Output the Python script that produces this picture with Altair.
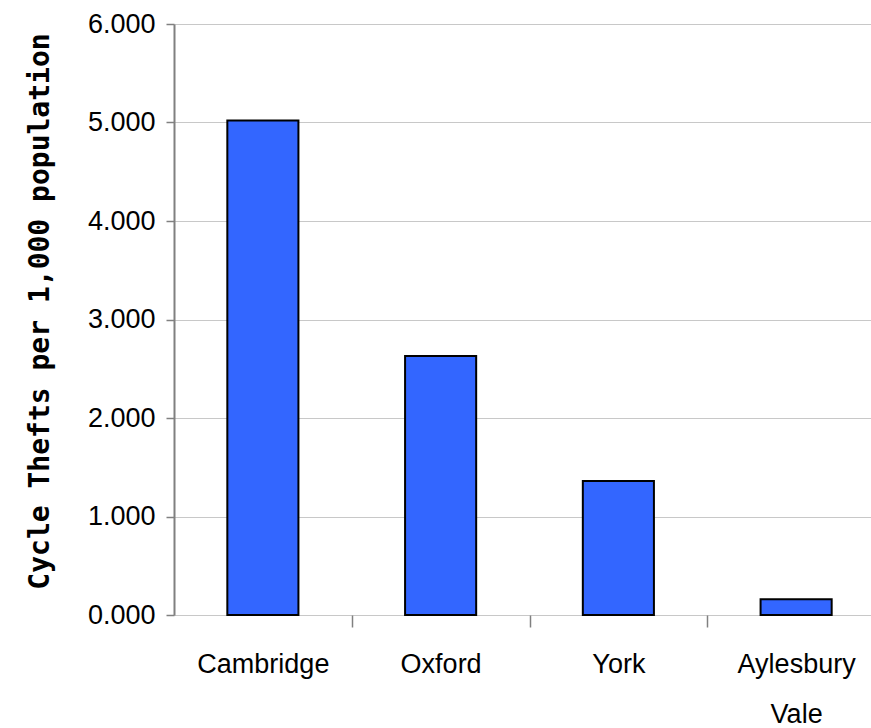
import altair as alt
import pandas as pd

areas = ["Cambridge", "Oxford", "York", "Aylesbury Vale"]
thefts = [5.02, 2.63, 1.36, 0.16]

df = pd.DataFrame({"area": areas, "thefts": thefts})

label_font = "Liberation Sans"

chart = alt.Chart(df).mark_bar(
    color="#3366FF", stroke="#000000", strokeWidth=2, clip=False
).encode(
    x=alt.X("area:N", sort=areas,
            scale=alt.Scale(paddingInner=0.6, paddingOuter=0.3, range=[0, 711]),
            axis=alt.Axis(title=None, labelAngle=0, tickOffset=88.875,
                          labelOffset=-88.875,
                          tickSize=12, tickColor="#808080", tickWidth=1.5,
                          domain=False,
                          labelFont=label_font, labelFontSize=27,
                          labelColor="#000000", labelPadding=24,
                          labelLineHeight=50,
                          labelExpr="datum.label == 'Aylesbury Vale' ? ['Aylesbury', 'Vale'] : datum.label",
                          grid=False)),
    y=alt.Y("thefts:Q",
            scale=alt.Scale(domain=[0, 6], nice=False),
            axis=alt.Axis(title="Cycle Thefts per 1,000 population",
                          values=[0, 1, 2, 3, 4, 5, 6], format=".3f",
                          tickSize=8, tickColor="#808080", tickWidth=1.5,
                          domainColor="#808080", domainWidth=2,
                          gridColor="#c8c8c8", gridWidth=1,
                          labelFont=label_font, labelFontSize=27,
                          labelColor="#000000", labelPadding=11,
                          titleFont="DejaVu Sans Mono", titleFontSize=28,
                          titleFontWeight="bold", titleColor="#000000",
                          titleX=-134, titleY=287, titleAngle=-90,
                          titleAlign="center", titleBaseline="middle")),
).properties(
    width=697, height=591,
    autosize=alt.AutoSizeParams(type="none"),
    padding={"left": 174, "top": 24, "right": 0, "bottom": 113},
).configure_view(
    stroke="#808080", strokeWidth=2
).configure(background="#ffffff")

chart.save("out.html", embed_options={"renderer": "svg", "actions": False})
